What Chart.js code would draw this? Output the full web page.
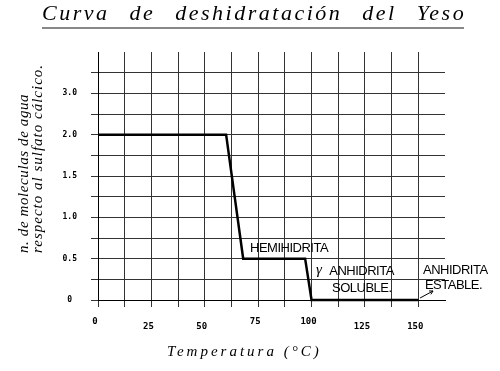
<!DOCTYPE html>
<html lang="es">
<head>
<meta charset="UTF-8">
<title>Curva de deshidratación del Yeso</title>
<style>
  html, body { margin: 0; padding: 0; background: #fff; }
  #wrap { position: relative; width: 500px; height: 371px; }
  #titulo {
    position: absolute; left: 42px; top: 0; width: 422px;
    text-align: center;
    font-family: 'Liberation Serif', serif; font-style: italic; font-size: 22px;
    letter-spacing: 2.5px; word-spacing: 12px;
    line-height: 26px; padding-bottom: 1px;
    border-bottom: 2px solid #888;
    color: #000; white-space: nowrap;
  }
  #grafico { position: absolute; left: 0; top: 0; }
</style>
<script src="https://cdn.jsdelivr.net/npm/chart.js"></script>
</head>
<body>
<div id="wrap">
  <canvas id="grafico" width="500" height="371"></canvas>
  <div id="titulo">Curva de deshidratación del Yeso</div>
</div>
<script>
  // curva: temperatura (°C) -> moléculas de agua
  const curveTemps = [0, 60, 68, 97, 100, 150];
  const curveWater = [2.0, 2.0, 0.5, 0.5, 0, 0];

  // etiquetas de los ejes (el original pone "3.0" en la línea de 2.5)
  const xTickTemps = [0, 25, 50, 75, 100, 125, 150];
  const xLowered = [25, 50, 125, 150];
  const yTickValues = [0, 0.5, 1.0, 1.5, 2.0, 2.5];
  const yTickTexts = ['0', '0.5', '1.0', '1.5', '2.0', '3.0'];

  const yTitleLines = ['n. de moleculas de agua', 'respecto al sulfato cálcico.'];
  const xTitle = 'Temperatura (°C)';
  const phaseNames = ['HEMIHIDRITA', 'ANHIDRITA', 'SOLUBLE.', 'ANHIDRITA', 'ESTABLE.'];

  const SERIF = '"Liberation Serif", "DejaVu Serif", serif';
  const SANS = '"Liberation Sans", Arial, sans-serif';
  const MONO = '"DejaVu Sans Mono", monospace';

  const notes = {
    id: 'notes',
    afterDraw(chart) {
      const { ctx, scales: { x, y } } = chart;
      ctx.save();
      ctx.fillStyle = '#000';
      ctx.strokeStyle = '#000';
      ctx.textBaseline = 'middle';
      ctx.textAlign = 'left';

      // fases
      ctx.font = '13px ' + SANS;
      ctx.letterSpacing = '-0.5px';
      ctx.fillText(phaseNames[0], x.getPixelForValue(71.2), y.getPixelForValue(0.625));
      ctx.fillText(phaseNames[1], x.getPixelForValue(108.3), y.getPixelForValue(0.342));
      ctx.fillText(phaseNames[2], x.getPixelForValue(109.6), y.getPixelForValue(0.145));
      ctx.fillText(phaseNames[3], x.getPixelForValue(152.2), y.getPixelForValue(0.363));
      ctx.fillText(phaseNames[4], x.getPixelForValue(153.1), y.getPixelForValue(0.181));

      ctx.letterSpacing = '0px';
      ctx.font = 'italic 15px ' + SERIF;
      ctx.fillText('γ', x.getPixelForValue(102.1), y.getPixelForValue(0.36));

      // flecha hacia ANHIDRITA ESTABLE
      const ax = x.getPixelForValue(150.8), ay = y.getPixelForValue(0.024);
      const bx = x.getPixelForValue(156.9), by = y.getPixelForValue(0.109);
      ctx.lineWidth = 1;
      ctx.beginPath();
      ctx.moveTo(ax, ay); ctx.lineTo(bx, by);
      const ang = Math.atan2(by - ay, bx - ax);
      ctx.moveTo(bx, by); ctx.lineTo(bx - 4 * Math.cos(ang - 0.5), by - 4 * Math.sin(ang - 0.5));
      ctx.moveTo(bx, by); ctx.lineTo(bx - 4 * Math.cos(ang + 0.5), by - 4 * Math.sin(ang + 0.5));
      ctx.stroke();

      // título eje y
      ctx.font = 'italic 15px ' + SERIF;
      [[24, '0.6px'], [38, '1px']].forEach(([cx, ls], i) => {
        ctx.save();
        ctx.letterSpacing = ls;
        ctx.translate(cx, 253);
        ctx.rotate(-Math.PI / 2);
        ctx.fillText(yTitleLines[i], 0, 0);
        ctx.restore();
      });

      // título eje x
      ctx.letterSpacing = '3px';
      ctx.fillText(xTitle, 167, 352);
      ctx.restore();
    }
  };

  new Chart(document.getElementById('grafico'), {
    type: 'scatter',
    data: {
      datasets: [{
        data: curveTemps.map((t, i) => ({ x: t, y: curveWater[i] })),
        showLine: true,
        borderColor: '#000',
        borderWidth: 2.5,
        pointRadius: 0,
        clip: 5
      }]
    },
    options: {
      responsive: false,
      animation: false,
      layout: { padding: { left: 0, top: 52, right: 55, bottom: 0 } },
      plugins: { legend: { display: false }, tooltip: { enabled: false } },
      scales: {
        x: {
          type: 'linear', min: 0, max: 162.5,
          afterFit(s) { s.height = 71; },
          ticks: {
            stepSize: 12.5, autoSkip: false, maxRotation: 0, padding: 4, labelOffset: -3, color: '#000',
            callback: v => xTickTemps.includes(v) ? String(v) : '',
            font: c => ({
              family: MONO, weight: 'bold', size: 9,
              lineHeight: (c.tick && xLowered.includes(c.tick.value)) ? '31px' : '21px'
            })
          },
          grid: {
            color: c => (c.tick && c.tick.value === 162.5) ? 'rgba(0,0,0,0)' : '#333',
            tickLength: 7
          },
          border: { color: '#000', width: 1 }
        },
        y: {
          min: 0, max: 3,
          afterFit(s) { s.width = 98; },
          ticks: {
            stepSize: 0.25, autoSkip: false, crossAlign: 'center', padding: 14, color: '#000',
            callback: v => { const i = yTickValues.indexOf(v); return i < 0 ? '' : yTickTexts[i]; },
            font: { family: MONO, weight: 'bold', size: 8 }
          },
          grid: {
            color: c => (c.tick && c.tick.value === 3) ? 'rgba(0,0,0,0)' : '#333',
            tickLength: 7
          },
          border: { color: '#000', width: 1 }
        }
      }
    },
    plugins: [notes]
  });
</script>
</body>
</html>
